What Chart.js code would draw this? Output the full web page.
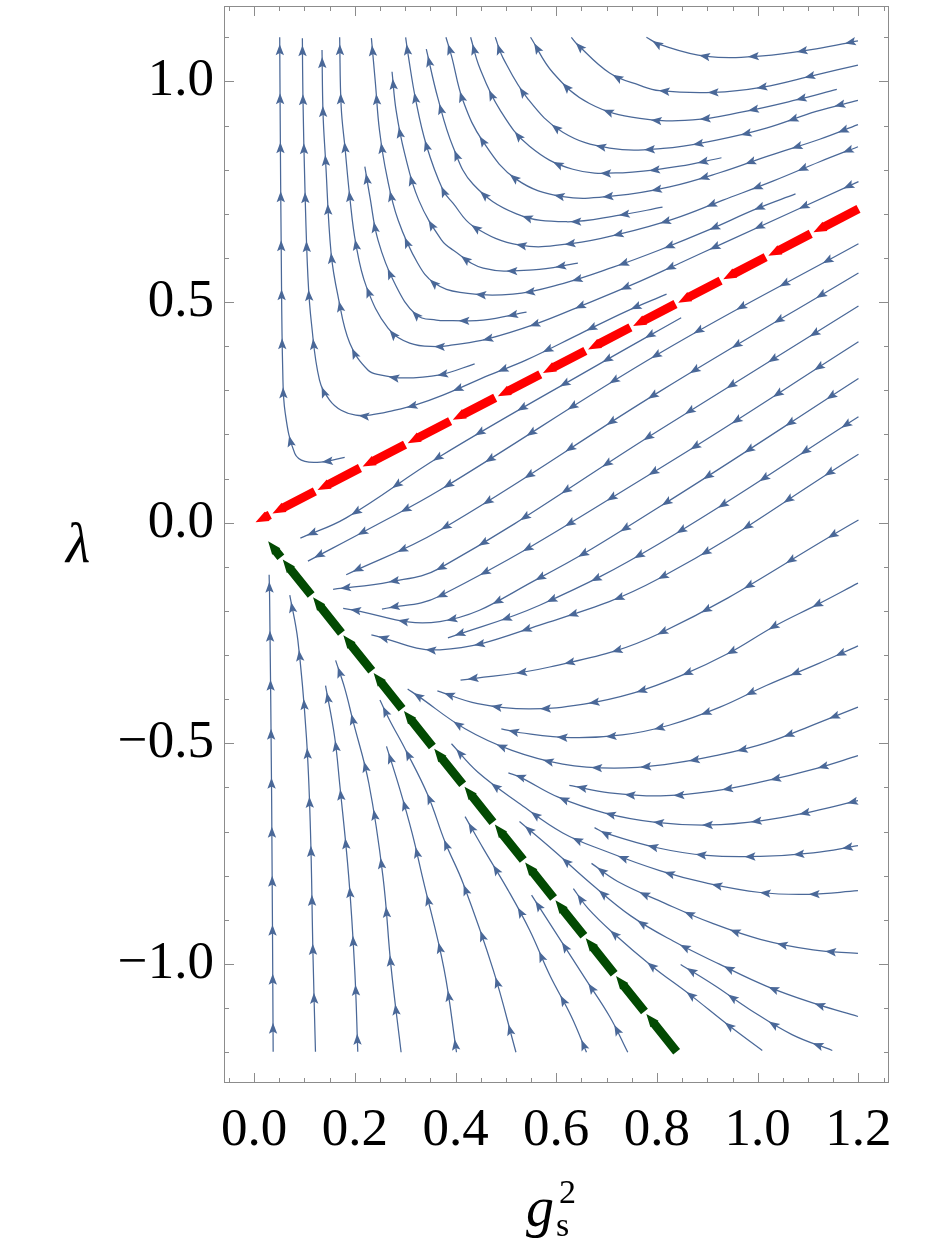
<!DOCTYPE html>
<html><head><meta charset="utf-8">
<script src="https://cdn.jsdelivr.net/npm/chart.js@4.4.1/dist/chart.umd.min.js"></script>
<style>html,body{margin:0;padding:0;background:#fff}canvas{display:block}</style>
</head><body>
<canvas id="c" width="938" height="1250"></canvas>
<script>
// ---- axis ticks ----
const xTicks = [0, 0.2, 0.4, 0.6, 0.8, 1.0, 1.2];
const xTickLabels = ['0.0','0.2','0.4','0.6','0.8','1.0','1.2'];
const xMinor = [-0.05,0.05,0.1,0.15,0.25,0.3,0.35,0.45,0.5,0.55,0.65,0.7,0.75,0.85,0.9,0.95,1.05,1.1,1.15,1.25];
const yTicks = [-1.0, -0.5, 0, 0.5, 1.0];
const yTickLabels = ['\u22121.0','\u22120.5','0.0','0.5','1.0'];
const yMinor = [-1.2,-1.1,-0.9,-0.8,-0.7,-0.6,-0.4,-0.3,-0.2,-0.1,0.1,0.2,0.3,0.4,0.6,0.7,0.8,0.9,1.1];

// ---- separatrices (tail -> head) ----
const redLine = [[1.200,0.711],[0.003,0.001]];
const greenLine = [[0.839,-1.199],[0.028,-0.042]];

// ---- streamlines above the red line (tail -> head) ----
const u1 = [[0.180,0.148],[0.137,0.138],[0.101,0.139],[0.081,0.157],[0.062,0.248],[0.057,0.346],[0.054,0.618],[0.052,0.912],[0.051,1.100]];
const u2 = [[0.819,0.518],[0.739,0.479],[0.647,0.428],[0.541,0.369],[0.468,0.335],[0.375,0.289],[0.321,0.267],[0.276,0.254],[0.230,0.244],[0.202,0.244],[0.173,0.255],[0.150,0.278],[0.130,0.323],[0.114,0.452],[0.107,0.557],[0.101,0.761],[0.097,0.973],[0.096,1.098]];
const u3 = [[0.438,0.360],[0.369,0.335],[0.296,0.328],[0.250,0.335],[0.226,0.346],[0.190,0.407],[0.167,0.512],[0.153,0.611],[0.142,0.822],[0.137,0.928],[0.135,1.071]];
const u4 = [[1.200,0.773],[0.931,0.633],[0.845,0.588],[0.752,0.540],[0.653,0.493],[0.561,0.451],[0.462,0.416],[0.395,0.403],[0.362,0.399],[0.309,0.407],[0.266,0.441],[0.223,0.535],[0.202,0.633],[0.190,0.739],[0.181,0.845],[0.173,0.943],[0.170,1.100]];
const u5 = [[0.541,0.477],[0.455,0.459],[0.395,0.458],[0.362,0.459],[0.322,0.471],[0.279,0.543],[0.246,0.641],[0.230,0.739],[0.220,0.807]];
const u6 = [[1.075,0.745],[0.997,0.711],[0.904,0.664],[0.805,0.618],[0.713,0.579],[0.613,0.542],[0.514,0.518],[0.409,0.522],[0.358,0.543],[0.325,0.588],[0.286,0.686],[0.264,0.784],[0.249,0.890],[0.241,0.996],[0.233,1.098]];
const u7 = [[0.643,0.588],[0.554,0.573],[0.455,0.577],[0.395,0.618],[0.372,0.641],[0.327,0.731],[0.299,0.837],[0.282,0.935],[0.274,1.022]];
const u8 = [[1.199,0.852],[1.123,0.818],[1.030,0.774],[0.931,0.731],[0.832,0.688],[0.729,0.655],[0.633,0.633],[0.528,0.629],[0.435,0.672],[0.395,0.724],[0.375,0.754],[0.342,0.856],[0.321,0.958],[0.306,1.060],[0.301,1.100]];
const u9 = [[0.811,0.715],[0.726,0.697],[0.620,0.682],[0.521,0.700],[0.435,0.767],[0.395,0.852],[0.365,0.962],[0.342,1.073]];
const u10 = [[1.199,0.902],[1.123,0.869],[1.023,0.832],[0.924,0.793],[0.825,0.761],[0.719,0.741],[0.613,0.739],[0.521,0.778],[0.455,0.863],[0.415,0.956],[0.392,1.058],[0.381,1.100]];
const u11 = [[0.928,0.827],[0.845,0.808],[0.732,0.793],[0.633,0.801],[0.547,0.853],[0.488,0.936],[0.448,1.031],[0.430,1.100]];
const u12 = [[1.199,0.957],[1.116,0.932],[1.017,0.894],[0.918,0.867],[0.812,0.848],[0.706,0.849],[0.613,0.885],[0.544,0.960],[0.494,1.054],[0.479,1.100]];
const u13 = [[1.157,0.982],[1.076,0.958],[0.970,0.931],[0.871,0.913],[0.766,0.916],[0.666,0.950],[0.594,1.019],[0.549,1.100]];
const u14 = [[1.199,1.037],[1.116,1.015],[1.010,0.987],[0.911,0.975],[0.805,0.979],[0.766,0.991],[0.706,1.019],[0.640,1.086],[0.630,1.100]];
const u15 = [[1.199,1.092],[1.116,1.074],[1.010,1.058],[0.898,1.057],[0.805,1.084],[0.779,1.100]];

// ---- streamlines between red and green (tail -> head) ----
const s1 = [[0.848,0.4645],[0.686,0.360],[0.369,0.150],[0.183,0.011],[0.092,-0.035]];
const d1 = [[1.200,0.632],[0.805,0.384],[0.369,0.074],[0.238,-0.008],[0.107,-0.087]];
const d2 = [[1.200,0.566],[0.805,0.297],[0.369,-0.017],[0.183,-0.118]];
const d3 = [[1.200,0.491],[0.805,0.210],[0.369,-0.103],[0.270,-0.134],[0.157,-0.151]];
const d4 = [[1.200,0.410],[0.805,0.123],[0.369,-0.166],[0.254,-0.196]];
const d5 = [[1.200,0.327],[0.805,0.036],[0.567,-0.125],[0.369,-0.224],[0.177,-0.194]];
const d6 = [[1.200,0.240],[0.805,-0.047],[0.567,-0.187],[0.385,-0.261]];
const d7 = [[1.200,0.155],[0.805,-0.126],[0.567,-0.232],[0.369,-0.288],[0.233,-0.254]];
const d8 = [[1.200,0.006],[0.805,-0.251],[0.587,-0.327],[0.410,-0.357]];
const d9 = [[1.199,-0.137],[1.119,-0.185],[1.034,-0.234],[0.942,-0.296],[0.849,-0.346],[0.756,-0.385],[0.655,-0.411],[0.545,-0.422],[0.444,-0.410],[0.364,-0.381]];
const d10 = [[1.199,-0.279],[1.119,-0.320],[1.017,-0.369],[0.925,-0.418],[0.824,-0.459],[0.731,-0.481],[0.630,-0.487],[0.529,-0.476],[0.491,-0.467]];
const d11 = [[1.199,-0.418],[1.119,-0.454],[1.017,-0.499],[0.916,-0.528],[0.815,-0.548],[0.714,-0.556],[0.613,-0.547],[0.512,-0.516],[0.419,-0.467],[0.326,-0.393],[0.305,-0.377]];
const d12 = [[1.199,-0.528],[1.119,-0.556],[1.009,-0.587],[0.908,-0.609],[0.807,-0.619],[0.706,-0.612],[0.626,-0.595]];
const d13 = [[1.199,-0.630],[1.110,-0.654],[1.009,-0.675],[0.904,-0.685],[0.798,-0.679],[0.697,-0.658],[0.604,-0.622],[0.529,-0.577],[0.505,-0.567]];
const d14 = [[1.199,-0.732],[1.110,-0.748],[1.005,-0.756],[0.899,-0.754],[0.798,-0.736],[0.697,-0.703],[0.676,-0.691]];
const d15 = [[1.199,-0.834],[1.102,-0.842],[1.005,-0.838],[0.899,-0.817],[0.807,-0.789],[0.697,-0.744],[0.613,-0.703],[0.529,-0.638],[0.444,-0.565],[0.392,-0.501]];
const d16 = [[1.199,-0.976],[1.110,-0.968],[1.005,-0.944],[0.908,-0.907],[0.815,-0.862],[0.722,-0.813],[0.670,-0.772]];
const d17 = [[1.199,-1.119],[1.114,-1.090],[1.017,-1.050],[0.925,-1.001],[0.832,-0.948],[0.748,-0.891],[0.668,-0.817],[0.596,-0.744],[0.527,-0.677]];
const b1 = [[1.009,-1.196],[0.942,-1.139],[0.866,-1.070],[0.790,-1.005],[0.714,-0.931],[0.663,-0.874],[0.634,-0.829]];
const b2 = [[1.148,-1.196],[1.068,-1.160],[0.984,-1.103],[0.916,-1.050],[0.847,-1.001]];

// ---- streamlines below the green line (tail -> head) ----
const e1 = [[0.038,-1.199],[0.035,-0.628],[0.031,-0.175],[0.030,-0.118]];
const e2 = [[0.122,-1.199],[0.117,-0.976],[0.112,-0.696],[0.104,-0.485],[0.087,-0.266],[0.071,-0.164]];
const e3 = [[0.206,-1.199],[0.200,-1.014],[0.188,-0.802],[0.170,-0.591],[0.160,-0.485],[0.142,-0.369]];
const e4 = [[0.292,-1.200],[0.272,-1.006],[0.256,-0.802],[0.228,-0.591],[0.196,-0.447],[0.180,-0.375],[0.162,-0.312]];
const e5 = [[0.402,-1.200],[0.377,-1.010],[0.335,-0.806],[0.314,-0.704],[0.289,-0.602],[0.263,-0.507]];
const e6 = [[0.520,-1.200],[0.475,-1.014],[0.415,-0.817],[0.379,-0.723],[0.345,-0.617],[0.301,-0.515],[0.269,-0.447],[0.250,-0.402]];
const e7 = [[0.660,-1.200],[0.630,-1.119],[0.587,-1.025],[0.547,-0.923],[0.504,-0.832],[0.455,-0.738],[0.419,-0.666]];
const e8 = [[0.742,-1.200],[0.706,-1.119],[0.657,-1.032],[0.604,-0.938],[0.551,-0.844]];

const streams = [u1,u2,u3,u4,u5,u6,u7,u8,u9,u10,u11,u12,u13,u14,u15,
  s1,d1,d2,d3,d4,d5,d6,d7,d8,d9,d10,d11,d12,d13,d14,d15,d16,d17,b1,b2,
  e1,e2,e3,e4,e5,e6,e7,e8];

const BLUE = '#4a6898';
const RED = '#ff0000';
const GREEN = '#024a02';
const SERIF = "'Liberation Serif','Times New Roman',serif";
const toPts = a => a.map(p => ({x: p[0], y: p[1]}));

const datasets = streams.map(a => ({
  data: toPts(a), showLine: true, borderColor: BLUE, borderWidth: 1.25,
  pointRadius: 0, tension: 0.4, fill: false, kind: 'stream'
}));
datasets.push({data: toPts(redLine), showLine: false, pointRadius: 0, kind: 'sep', color: RED, period: 50.8});
datasets.push({data: toPts(greenLine), showLine: false, pointRadius: 0, kind: 'sep', color: GREEN, period: 48.5});

function samplePath(pts) {
  const out = [{x: pts[0].x, y: pts[0].y}];
  for (let i = 0; i < pts.length - 1; i++) {
    const a = pts[i], b = pts[i + 1];
    const c1x = a.cp2x !== undefined ? a.cp2x : a.x, c1y = a.cp2y !== undefined ? a.cp2y : a.y;
    const c2x = b.cp1x !== undefined ? b.cp1x : b.x, c2y = b.cp1y !== undefined ? b.cp1y : b.y;
    for (let k = 1; k <= 24; k++) {
      const t = k / 24, m = 1 - t;
      out.push({
        x: m*m*m*a.x + 3*m*m*t*c1x + 3*m*t*t*c2x + t*t*t*b.x,
        y: m*m*m*a.y + 3*m*m*t*c1y + 3*m*t*t*c2y + t*t*t*b.y
      });
    }
  }
  return out;
}

function drawArrows(ctx, path) {
  const n = path.length, cum = new Array(n);
  cum[n - 1] = 0;
  for (let i = n - 2; i >= 0; i--) cum[i] = cum[i + 1] + Math.hypot(path[i + 1].x - path[i].x, path[i + 1].y - path[i].y);
  const total = cum[0], L = 11, W = 4.2;
  ctx.fillStyle = BLUE;
  for (let d = 7; d + L <= total; d += 49) {
    let i = n - 2;
    while (i > 0 && cum[i] < d) i--;
    const a = path[i], b = path[i + 1];
    const seg = cum[i] - cum[i + 1] || 1;
    const t = (cum[i] - d) / seg;
    const tx = a.x + (b.x - a.x) * t, ty = a.y + (b.y - a.y) * t;
    let ux = b.x - a.x, uy = b.y - a.y; const ln = Math.hypot(ux, uy) || 1; ux /= ln; uy /= ln;
    ctx.beginPath();
    ctx.moveTo(tx, ty);
    ctx.lineTo(tx - ux * L - uy * W, ty - uy * L + ux * W);
    ctx.lineTo(tx - ux * L * 0.8, ty - uy * L * 0.8);
    ctx.lineTo(tx - ux * L + uy * W, ty - uy * L - ux * W);
    ctx.closePath();
    ctx.fill();
  }
}

function drawSep(ctx, p0, p1, color, period) {
  const dx = p1.x - p0.x, dy = p1.y - p0.y, Ltot = Math.hypot(dx, dy);
  const ux = dx / Ltot, uy = dy / Ltot, nx = -uy, ny = ux;
  const hw = 4.4, thw = 5.2, tl = 13, gap = 3;
  const P = (s, off) => [p0.x + ux * s + nx * off, p0.y + uy * s + ny * off];
  ctx.fillStyle = color;
  for (let s = 0; s < Ltot; s += period) {
    const a = s === 0 ? 0 : s + gap;
    const b = Math.min(s + period, Ltot);
    if (b - a < 3) continue;
    const m = Math.max(a, b - tl);
    const pts = [P(a, hw), P(m, hw), P(m, thw), P(b, 0), P(m, -thw), P(m, -hw), P(a, -hw)];
    ctx.beginPath();
    ctx.moveTo(pts[0][0], pts[0][1]);
    for (let k = 1; k < pts.length; k++) ctx.lineTo(pts[k][0], pts[k][1]);
    ctx.closePath();
    ctx.fill();
  }
}

const streamPlugin = {
  id: 'streamArrows',
  afterDatasetsDraw(chart) {
    const ctx = chart.ctx;
    ctx.save();
    chart.data.datasets.forEach((ds, i) => {
      const meta = chart.getDatasetMeta(i);
      if (ds.kind === 'stream') drawArrows(ctx, samplePath(meta.data));
    });
    chart.data.datasets.forEach((ds, i) => {
      const meta = chart.getDatasetMeta(i);
      if (ds.kind === 'sep') drawSep(ctx, meta.data[0], meta.data[1], ds.color, ds.period);
    });
    ctx.restore();
  }
};

const framePlugin = {
  id: 'frame',
  afterDraw(chart) {
    const {ctx, chartArea: ca, scales: {x, y}} = chart;
    ctx.save();
    ctx.strokeStyle = '#8c8c8c';
    ctx.lineWidth = 1;
    ctx.strokeRect(ca.left + 0.5, ca.top + 0.5, ca.right - ca.left - 1, ca.bottom - ca.top - 1);
    ctx.beginPath();
    const tx = (v, len) => { const p = Math.round(x.getPixelForValue(v)) + 0.5;
      ctx.moveTo(p, ca.bottom); ctx.lineTo(p, ca.bottom - len);
      ctx.moveTo(p, ca.top); ctx.lineTo(p, ca.top + len); };
    const ty = (v, len) => { const p = Math.round(y.getPixelForValue(v)) + 0.5;
      ctx.moveTo(ca.left, p); ctx.lineTo(ca.left + len, p);
      ctx.moveTo(ca.right, p); ctx.lineTo(ca.right - len, p); };
    xTicks.forEach(v => tx(v, 10)); xMinor.forEach(v => tx(v, 5));
    yTicks.forEach(v => ty(v, 10)); yMinor.forEach(v => ty(v, 5));
    ctx.stroke();
    // axis titles
    ctx.fillStyle = '#000';
    ctx.textBaseline = 'alphabetic';
    ctx.textAlign = 'left';
    ctx.font = 'italic 56px ' + SERIF;
    ctx.fillText('\u03bb', 66, 562);
    ctx.font = 'italic 56px ' + SERIF;
    ctx.fillText('g', 526, 1226);
    ctx.font = '34px ' + SERIF;
    ctx.fillText('s', 556, 1236);
    ctx.fillText('2', 559, 1203);
    ctx.restore();
  }
};

const fmt = (list, labels) => (v) => {
  const i = list.findIndex(t => Math.abs(t - v) < 1e-6);
  return i >= 0 ? labels[i] : '';
};
const noPad = s => { s.paddingTop = 0; s.paddingBottom = 0; s.paddingLeft = 0; s.paddingRight = 0; };

new Chart(document.getElementById('c').getContext('2d'), {
  type: 'scatter',
  data: {datasets},
  options: {
    responsive: false, animation: false, events: [],
    layout: {padding: {left: 0, right: 49, top: 6, bottom: 0}},
    plugins: {legend: {display: false}, tooltip: {enabled: false}},
    scales: {
      x: {
        type: 'linear', min: -0.0596, max: 1.2606, position: 'bottom',
        afterFit: s => { s.height = 167; noPad(s); },
        afterBuildTicks: s => { s.ticks = xTicks.map(v => ({value: v})); },
        grid: {display: false, drawTicks: false}, border: {display: false},
        ticks: {callback: fmt(xTicks, xTickLabels), color: '#000', font: {family: SERIF, size: 53}, padding: 16, maxRotation: 0, autoSkip: false}
      },
      y: {
        type: 'linear', min: -1.2697, max: 1.1709, position: 'left',
        afterFit: s => { s.width = 224; noPad(s); },
        afterBuildTicks: s => { s.ticks = yTicks.map(v => ({value: v})); },
        grid: {display: false, drawTicks: false}, border: {display: false},
        ticks: {callback: fmt(yTicks, yTickLabels), color: '#000', font: {family: SERIF, size: 53}, padding: 10, autoSkip: false}
      }
    }
  },
  plugins: [streamPlugin, framePlugin]
});
</script>
</body></html>
